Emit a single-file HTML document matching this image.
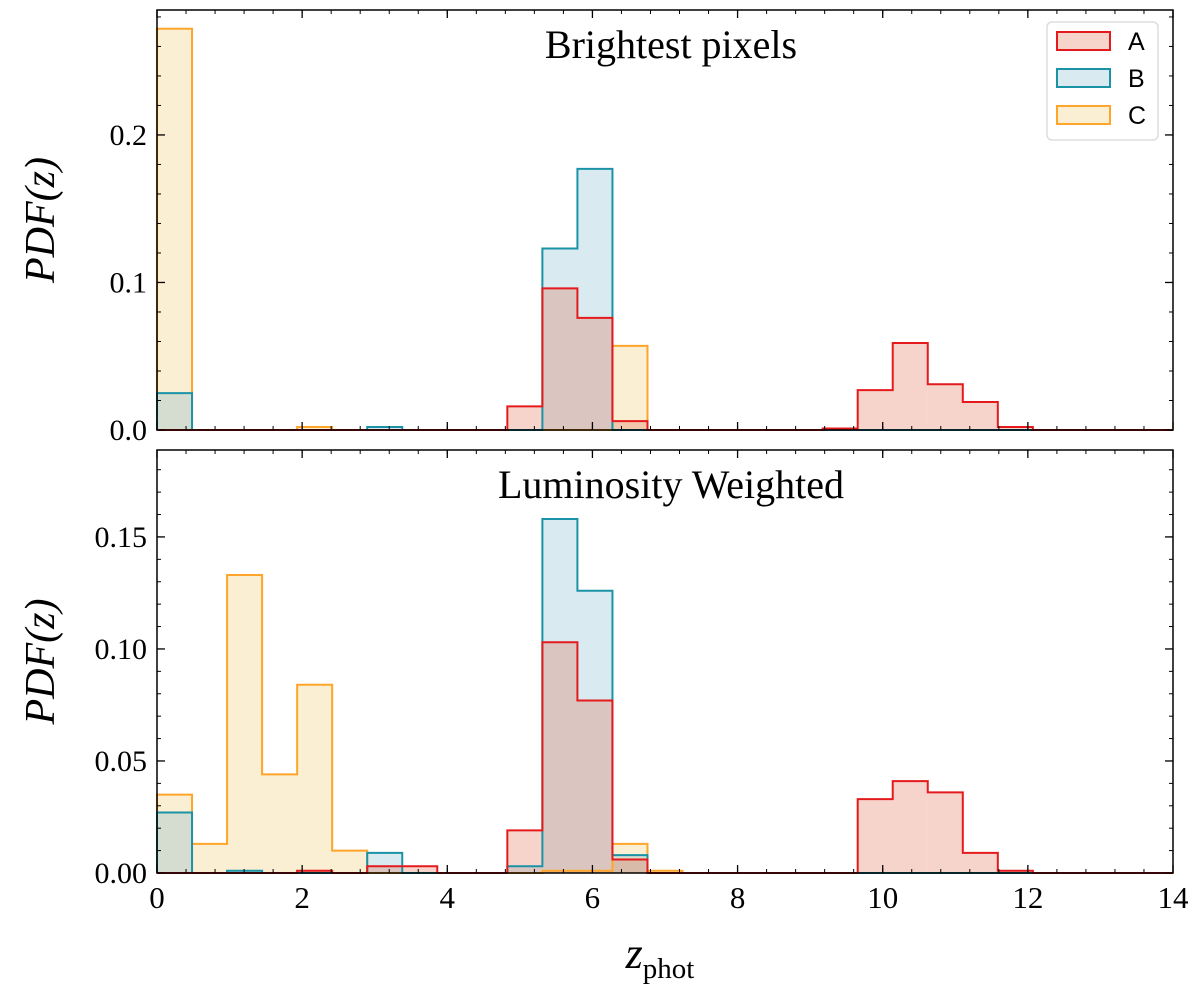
<!DOCTYPE html>
<html><head><meta charset="utf-8"><style>
body{margin:0;background:#fff}
svg text{font-family:"Liberation Serif",serif;fill:#000}
</style></head><body>
<svg id="fig" width="1200" height="995" xmlns="http://www.w3.org/2000/svg"></svg>
<script>
const nBins = 29, zMax = 14;
const topA = [0,0,0,0,0,0,0,0,0,0,0.016,0.096,0.076,0.006,0,0,0,0,0,0.001,0.027,0.059,0.031,0.019,0.002,0,0,0,0];
const topB = [0.025,0,0,0,0,0,0.002,0,0,0,0,0.123,0.177,0,0,0,0,0,0,0,0,0,0,0,0,0,0,0,0];
const topC = [0.272,0,0,0,0.002,0,0,0,0,0,0,0,0,0.057,0,0,0,0,0,0,0,0,0,0,0,0,0,0,0];
const botA = [0,0,0,0,0.001,0,0.003,0.003,0,0,0.019,0.103,0.077,0.006,0,0,0,0,0,0,0.033,0.041,0.036,0.009,0.001,0,0,0,0];
const botB = [0.027,0,0.001,0,0,0,0.009,0,0,0,0.003,0.158,0.126,0.008,0,0,0,0,0,0,0,0,0,0,0,0,0,0,0];
const botC = [0.035,0.013,0.133,0.044,0.084,0.010,0,0,0,0,0,0.001,0.001,0.013,0.001,0,0,0,0,0,0,0,0,0,0,0,0,0,0];
const topTicks = [0,0.1,0.2];
const topTickLabels = ["0.0","0.1","0.2"];
const botTicks = [0,0.05,0.10,0.15];
const botTickLabels = ["0.00","0.05","0.10","0.15"];
const xTicks = [0,2,4,6,8,10,12,14];

const svg = document.getElementById('fig');
const NS = 'http://www.w3.org/2000/svg';
function mk(tag, attrs, parent){const e=document.createElementNS(NS,tag);for(const k in attrs)e.setAttribute(k,attrs[k]);(parent||svg).appendChild(e);return e;}
const X0=157,X1=1173;
const xs = z => X0+(X1-X0)*z/zMax;
const colors = {A:['#e41a1c','rgba(228,100,70,0.28)'],B:['#1a93a6','rgba(120,180,200,0.28)'],C:['#ffa52a','rgba(240,205,130,0.35)']};

function panel(name, y0px, yTopPx, ymax, data, ticks, labels, minor, title, showX){
  const ys = v => y0px-(y0px-yTopPx)*v/ymax;
  const g = mk('g',{});  
  const w=(X1-X0)/nBins;
  [['C',data.C],['B',data.B],['A',data.A]].forEach(([k,arr])=>{
    arr.forEach((v,i)=>{ if(v<=0) return;
      const r=mk('rect',{x:xs(i*zMax/nBins),y:ys(v),width:w,height:y0px-ys(v),fill:colors[k][1]},g);
       
    });
  });
  [['C',data.C],['B',data.B],['A',data.A]].forEach(([k,arr])=>{
    let d='M'+xs(0)+','+y0px;
    arr.forEach((v,i)=>{const xa=xs(i*zMax/nBins),xb=xs((i+1)*zMax/nBins);d+=' L'+xa+','+ys(v)+' L'+xb+','+ys(v);});
    d+=' L'+X1+','+y0px;
    const p=mk('path',{d:d,fill:'none',stroke:colors[k][0],'stroke-width':2},g);
     
  });
  mk('rect',{x:X0,y:yTopPx,width:X1-X0,height:y0px-yTopPx,fill:'none',stroke:'#000','stroke-width':1.5},g);
  for(let v=0;v<=ymax+1e-9;v+=minor){const y=ys(v);mk('line',{x1:X0,x2:X0+4,y1:y,y2:y,stroke:'#000'},g);mk('line',{x1:X1,x2:X1-4,y1:y,y2:y,stroke:'#000'},g);}
  ticks.forEach((v,i)=>{const y=ys(v);mk('line',{x1:X0,x2:X0+8,y1:y,y2:y,stroke:'#000','stroke-width':1.3},g);mk('line',{x1:X1,x2:X1-8,y1:y,y2:y,stroke:'#000','stroke-width':1.3},g);
    const t=mk('text',{x:X0-10,y:y+10,'text-anchor':'end','font-size':30},g);t.textContent=labels[i];});
  for(let z=0;z<=zMax+1e-9;z+=0.4){const x=xs(z);mk('line',{x1:x,x2:x,y1:y0px,y2:y0px-4,stroke:'#000'},g);mk('line',{x1:x,x2:x,y1:yTopPx,y2:yTopPx+4,stroke:'#000'},g);}
  xTicks.forEach(z=>{const x=xs(z);mk('line',{x1:x,x2:x,y1:y0px,y2:y0px-8,stroke:'#000','stroke-width':1.3},g);mk('line',{x1:x,x2:x,y1:yTopPx,y2:yTopPx+8,stroke:'#000','stroke-width':1.3},g);
    if(showX){const t=mk('text',{x:x,y:y0px+35,'text-anchor':'middle','font-size':31},g);t.textContent=z;}});
  const tt=mk('text',{x:671,y:yTopPx+48,'text-anchor':'middle','font-size':40},g);tt.textContent=title;
  
  const yl=mk('text',{x:0,y:0,'text-anchor':'middle','font-size':42,'font-style':'italic',transform:`translate(54,${(y0px+yTopPx)/2}) rotate(-90)`},g);
  yl.textContent='PDF(z)';
}
panel('top',430,10,0.2847,{A:topA,B:topB,C:topC},topTicks,topTickLabels,0.02,'Brightest pixels',false);
panel('bottom',873,450,0.1888,{A:botA,B:botB,C:botC},botTicks,botTickLabels,0.01,'Luminosity Weighted',true);
const xl=mk('text',{x:660,y:968,'text-anchor':'middle','font-size':44,'font-style':'italic'});
xl.innerHTML='z<tspan font-size="29" font-style="normal" dy="10">phot</tspan>';

const lg=mk('g',{});
mk('rect',{x:1047,y:22,width:111,height:118,rx:5,fill:'#fff',stroke:'#ddd','stroke-width':1.5},lg);
['A','B','C'].forEach((k,i)=>{const y=41+i*37;
  const r=mk('rect',{x:1057,y:y-9,width:53,height:18,fill:colors[k][1],stroke:colors[k][0],'stroke-width':2},lg);
  
  const t=mk('text',{x:1128,y:y+9,'font-size':25,style:'font-family:"Liberation Sans",sans-serif'},lg);t.textContent=k;
  });
</script>
</body></html>
